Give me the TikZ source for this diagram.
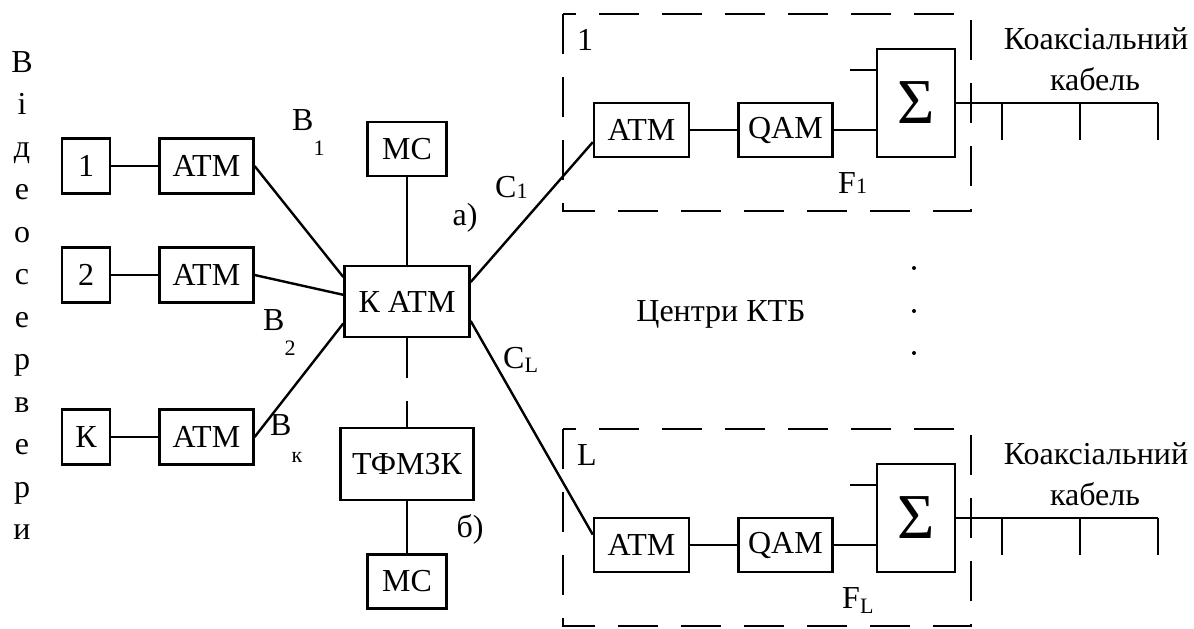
\documentclass[tikz,border=0pt]{standalone}
\usepackage{fontspec}
\setmainfont{Liberation Serif}
\newfontfamily\timesfnt{Liberation Serif}
\usepackage{tikz}
\usetikzlibrary{calc,positioning}
\newcommand{\sublbl}[3]{#1\raisebox{#2}{\fontsize{11}{11}\selectfont #3}}

\begin{document}
\begin{tikzpicture}[x=0.5pt,y=-0.5pt,line width=1.2pt,
    every node/.style={font=\timesfnt\fontsize{16}{19}\selectfont},
    blk/.style={draw,inner sep=0pt},
    srcbox/.style={blk,minimum width=24pt,minimum height=27.5pt},
    atmbox/.style={blk,minimum width=47pt,minimum height=27.5pt},
    mcbox/.style={blk,minimum width=39.5pt,minimum height=27pt},
    sumbox/.style={blk,minimum width=39pt,minimum height=54pt,font=\timesfnt\fontsize{32}{32}\selectfont},
    grpbox/.style={dash pattern=on 20pt off 11.5pt},
    txt/.style={inner sep=0pt,anchor=base}]
  \useasboundingbox (0,0) rectangle (1194,628);
  % video servers
  \foreach \ch [count=\i from 0] in {В,і,д,е,о,с,е,р,в,е,р,и}
    \node[txt] (vs\i) at (22,72+42.5*\i) {\ch};
  \node[srcbox] (src1) at (86,166) {1};
  \node[srcbox] (src2) at (86,275) {2};
  \node[srcbox] (srcK) at (86,437) {К};
  \node[atmbox,right=23.5pt of src1] (atm1) {ATM};
  \node[atmbox,right=23.5pt of src2] (atm2) {ATM};
  \node[atmbox,right=23.5pt of srcK] (atmK) {ATM};
  % switch
  \node[blk,minimum width=62.5pt,minimum height=35.5pt] (katm) at (407,301.5) {К ATM};
  \node[mcbox] (mcT) at (407,149) {MC};
  \node[blk,minimum width=66.5pt,minimum height=36pt] (tfmzk) at (407,464) {ТФМЗК};
  \node[mcbox] (mcB) at (407,581.5) {MC};
  \foreach \s in {1,2,K} \draw (src\s) -- (atm\s);
  \draw (atm1.east) -- (katm.159);
  \draw (atm2.east) -- (katm.174);
  \draw (atmK.east) -- (katm.199);
  \draw (mcT) -- (katm);
  \draw[dash pattern=on 20pt off 11.5pt] (katm) -- (tfmzk);
  \draw (tfmzk) -- (mcB);
  \node[txt,anchor=base west] (b1) at (291,130) {\sublbl{B}{-12.5pt}{1}};
  \node[txt,anchor=base west] (b2) at (262,330) {\sublbl{B}{-12.5pt}{2}};
  \node[txt,anchor=base west] (bk) at (269,435) {\sublbl{B}{-13.5pt}{к}};
  \node[txt] (la) at (465,225) {a)};
  \node[txt] (lb) at (470,537) {б)};
  % cable TV centres
  \foreach \g/\y/\n in {A/0/1,B/415/L}{
    \draw[grpbox] (563,14+\y) rectangle (971,211+\y);
    \node[txt,anchor=base west] (n\g) at (576,50+\y) {\n};
    \node[blk,minimum width=47.5pt,minimum height=27pt] (atm\g) at (641.5,130+\y) {ATM};
    \node[atmbox,minimum height=27pt,right=23.5pt of atm\g] (qam\g) {QAM};
    \node[sumbox] (sum\g) at (916,103+\y) {Σ};
    \draw (atm\g) -- (qam\g);
    \draw (qam\g.east) -- (qam\g.east -| sum\g.west);
    \draw ([yshift=-11pt]sum\g.north west) -- ++(-26,0);
    \draw (sum\g.east) -- ++(202,0);
    \foreach \t in {46,124,202} \draw ([xshift=\t*0.5pt]sum\g.east) -- ++(0,37);
    \node[txt] (coax\g) at (1096,49+\y) {Коаксіальний};
    \node[txt] (cab\g) at (1095,90+\y) {кабель};
  }
  \draw (katm.17) -- (atmA.194);
  \draw (katm.343) -- (atmB.168);
  \node[txt,anchor=base west] (c1) at (494,197) {\sublbl{C}{-0.5pt}{1}};
  \node[txt,anchor=base west] (cL) at (502,368) {\sublbl{C}{-2pt}{L}};
  \node[txt,anchor=base west] (f1) at (837,193) {\sublbl{F}{0pt}{1}};
  \node[txt,anchor=base west] (fL) at (841,608) {\sublbl{F}{-2.5pt}{L}};
  \node[txt] (ktb) at (721,321) {Центри КТБ};
  \foreach \d in {268,311,353} \fill (914,\d) circle (1pt);
\end{tikzpicture}
\end{document}
